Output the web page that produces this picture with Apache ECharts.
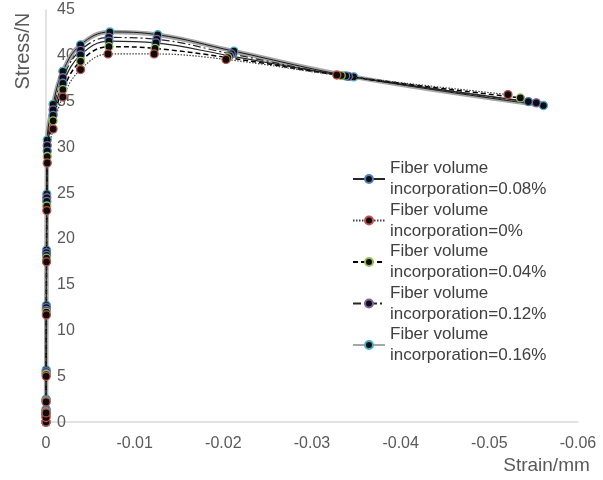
<!DOCTYPE html>
<html><head><meta charset="utf-8">
<script src="https://cdn.jsdelivr.net/npm/echarts@6/dist/echarts.min.js"></script>
<style>html,body{margin:0;padding:0;background:#fff}#c{width:603px;height:480px}</style>
</head><body><div id="c"></div>
<script>
// ---- data ----
const seriesNames = [
  'Fiber volume incorporation=0.08%',
  'Fiber volume incorporation=0%',
  'Fiber volume incorporation=0.04%',
  'Fiber volume incorporation=0.12%',
  'Fiber volume incorporation=0.16%'
];
const xTicks = [0, -0.01, -0.02, -0.03, -0.04, -0.05, -0.06];
const yTicks = [0, 5, 10, 15, 20, 25, 30, 35, 40, 45];

const strain0 = [0, -0.000003, -0.000006, -0.00001, -0.00002, -0.00004, -0.00006, -0.00009, -0.00014, -0.0008, -0.0019, -0.0039, -0.0070, -0.0122, -0.0203, -0.0328, -0.0521];
const stress0 = [0, 0.5, 1.0, 2.2, 5.0, 11.7, 17.5, 23.1, 28.3, 32.0, 35.5, 38.5, 40.2, 40.2, 39.6, 37.9, 35.76];

const strain004 = [0, -0.000003, -0.000006, -0.00001, -0.00002, -0.00004, -0.00006, -0.00009, -0.00014, -0.0008, -0.0019, -0.0039, -0.0071, -0.0123, -0.0205, -0.0333, -0.0535];
const stress004 = [0, 0.6, 1.1, 2.3, 5.2, 12.0, 17.9, 23.6, 29.0, 32.9, 36.3, 39.4, 41.0, 40.8, 39.8, 37.85, 35.4];

const strain008 = [0, -0.000003, -0.000006, -0.00001, -0.00002, -0.00004, -0.00006, -0.00009, -0.00014, -0.0008, -0.0019, -0.0039, -0.0071, -0.0124, -0.0207, -0.0338, -0.0544];
const stress008 = [0, 0.7, 1.2, 2.4, 5.3, 12.2, 18.2, 24.1, 29.6, 33.5, 37.0, 40.1, 41.6, 41.4, 40.0, 37.8, 35.0];

const strain012 = [0, -0.000003, -0.000006, -0.00001, -0.00002, -0.00004, -0.00006, -0.00009, -0.00014, -0.0008, -0.0019, -0.0039, -0.0071, -0.0125, -0.0209, -0.0341, -0.0553];
const stress012 = [0, 0.8, 1.3, 2.4, 5.5, 12.5, 18.5, 24.5, 30.2, 34.1, 37.6, 40.6, 42.0, 41.8, 40.2, 37.75, 34.86];

const strain016 = [0, -0.000003, -0.000006, -0.00001, -0.00002, -0.00004, -0.00006, -0.00009, -0.00014, -0.0008, -0.0019, -0.0039, -0.0072, -0.0126, -0.0212, -0.0347, -0.0561];
const stress016 = [0, 0.9, 1.4, 2.5, 5.7, 12.75, 18.8, 24.9, 30.8, 34.7, 38.3, 41.2, 42.6, 42.3, 40.5, 37.7, 34.57];

// ---- build ----
function pairs(xs, ys) { return xs.map((x, i) => [x, ys[i]]); }
const FONT = 'Liberation Sans, Arial, sans-serif';
const SM = 0.4;
function mk(name, xs, ys, line, border, extra) {
  return Object.assign({
    type: 'line', name: name, data: pairs(xs, ys), smooth: SM,
    symbol: 'circle', symbolSize: 8, showSymbol: true,
    itemStyle: { color: '#0d0d0d', borderColor: border, borderWidth: 1.3 },
    lineStyle: line, emphasis: { disabled: true }
  }, extra || {});
}

const chart = echarts.init(document.getElementById('c'), null, { renderer: 'canvas' });
chart.setOption({
  animation: false,
  backgroundColor: '#fff',
  grid: { left: 46, right: 25, top: 10, bottom: 56 },
  xAxis: {
    type: 'value', inverse: true,
    min: xTicks[xTicks.length - 1], max: xTicks[0], interval: 0.01,
    axisLine: { show: true, onZero: false, lineStyle: { color: '#d9d9d9', width: 1.5 } },
    axisTick: { show: false }, splitLine: { show: false },
    axisLabel: { color: '#595959', fontSize: 16, fontFamily: FONT, margin: 13 },
    name: 'Strain/mm', nameLocation: 'middle', nameGap: 33,
    nameTextStyle: { color: '#595959', fontSize: 19, fontFamily: FONT, padding: [0, 0, 0, 469] }
  },
  yAxis: {
    type: 'value', min: yTicks[0], max: yTicks[yTicks.length - 1], interval: 5,
    axisLine: { show: true, lineStyle: { color: '#d9d9d9', width: 1.5 } },
    axisTick: { show: false }, splitLine: { show: false },
    axisLabel: { inside: true, color: '#595959', fontSize: 16, fontFamily: FONT, margin: 11 },
    name: 'Stress/N', nameLocation: 'middle', nameGap: 13,
    nameTextStyle: { color: '#595959', fontSize: 20, fontFamily: FONT, padding: [0, 0, 0, 330] }
  },
  legend: {
    orient: 'vertical', left: 347, top: 142.5,
    itemWidth: 32, itemHeight: 10, itemGap: -21.5,
    data: seriesNames,
    formatter: function (n) { return n.replace('Fiber volume ', 'Fiber volume\n'); },
    textStyle: { color: '#404040', fontSize: 17, fontFamily: FONT, lineHeight: 21, padding: [21, 0, 0, 0] },
    selectedMode: false
  },
  series: [
    mk(seriesNames[4], strain016, stress016, { color: '#a6a6a6', width: 4.5 }, '#4BACC6', { showSymbol: false, z: 1 }),
    mk(seriesNames[4], strain016, stress016, { color: '#1a1a1a', width: 1 }, '#4BACC6', { z: 2 }),
    mk(seriesNames[3], strain012, stress012, { color: '#262626', width: 1.2, type: [8, 3, 2, 3] }, '#8064A2'),
    mk(seriesNames[0], strain008, stress008, { color: '#262626', width: 1.2, type: 'solid' }, '#4F81BD'),
    mk(seriesNames[2], strain004, stress004, { color: '#000', width: 1.5, type: [5, 3] }, '#9BBB59'),
    mk(seriesNames[1], strain0, stress0, { color: '#404040', width: 1.2, type: [1.5, 1.5] }, '#C0504D')
  ]
});
</script></body></html>
